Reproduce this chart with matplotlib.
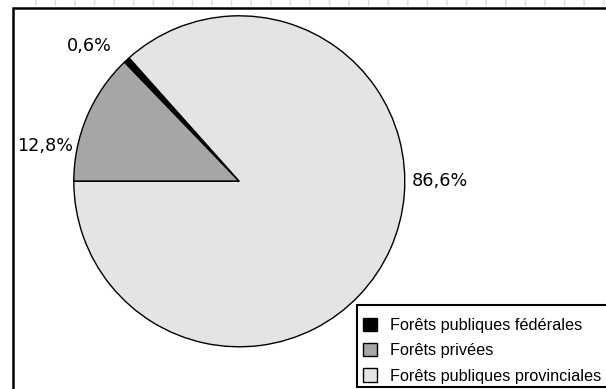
import matplotlib.pyplot as plt
from matplotlib.patches import Rectangle

plt.rcParams['lines.scale_dashes'] = False

# data: shares of forest land by tenure (%)
categories = ['Forêts privées', 'Forêts publiques fédérales', 'Forêts publiques provinciales']
shares = [12.8, 0.6, 86.6]
labels = ['12,8%', '0,6%', '86,6%']
colors = ['#a6a6a6', '#000000', '#e4e4e4']
legend_order = [1, 0, 2]

W, H = 606, 389
fig = plt.figure(figsize=(W / 100, H / 100), dpi=100)
ax = fig.add_axes([0, 0, 1, 1])

wedges, _ = ax.pie(shares, colors=colors, startangle=180, counterclock=False,
                   center=(239.3, H - 181.3), radius=165.5,
                   wedgeprops=dict(edgecolor='black', linewidth=1.0))

ax.set_xlim(0, W)
ax.set_ylim(0, H)
ax.set_aspect('equal')
ax.axis('off')

# outer frame (runs off the right and bottom edges)
ax.add_patch(Rectangle((12.7, -20), 700, H - 8 + 20, fill=False,
                       edgecolor='black', linewidth=1.8, zorder=0))

# faint pink ticks along the top edge
line, = ax.plot([35, W + 20], [H - 2.8, H - 2.8], color='#f6d3db',
                linewidth=4.2, solid_capstyle='butt', zorder=0)
line.set_dashes([1.1, 13.0])
line.set_dash_capstyle('butt')

# percentage labels
label_pos = [(17, H - 151), (67, H - 51), (412, H - 186)]
for txt, (x, y) in zip(labels, label_pos):
    ax.text(x, y, txt, fontsize=12.7, family='DejaVu Sans', va='baseline', ha='left')

# legend box, drawn separately so the rows can sit lower inside it
ax.add_patch(Rectangle((357, 2), 300, H - 305 - 2, facecolor='white',
                       edgecolor='black', linewidth=1.5, zorder=3))

leg = fig.legend([wedges[i] for i in legend_order],
                 [categories[i] for i in legend_order],
                 loc='upper left', bbox_to_anchor=(357 / W, 1 - 312 / H),
                 borderaxespad=0, frameon=False,
                 prop={'family': 'Liberation Sans', 'size': 11.7},
                 handlelength=0.86, handleheight=0.86, handletextpad=0.8,
                 labelspacing=0.62, borderpad=0.37)
leg.set_zorder(5)

fig.savefig('out.png', dpi=100)
